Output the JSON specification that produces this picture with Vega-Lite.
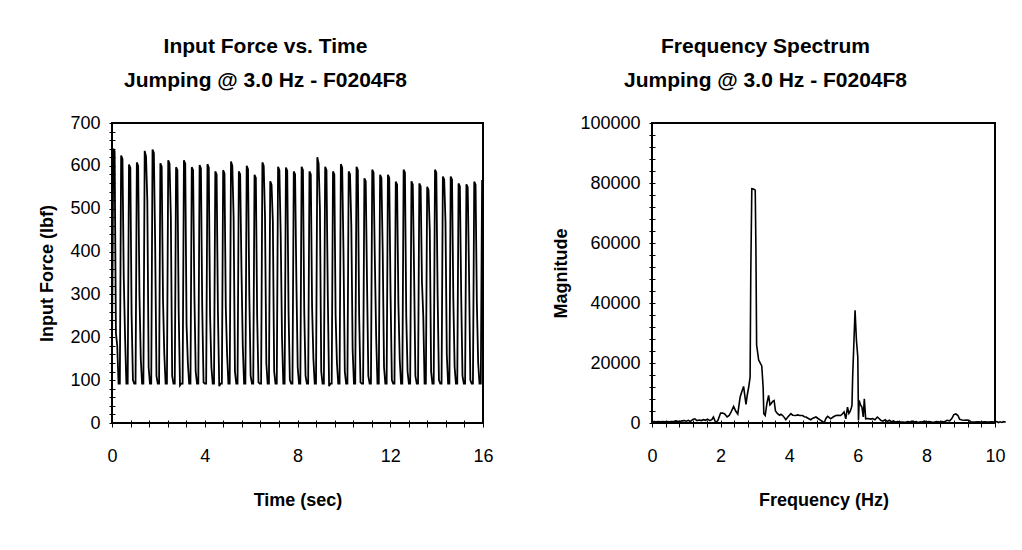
{
  "$schema": "https://vega.github.io/schema/vega-lite/v6.json",
  "background": "white",
  "padding": {"left": 37, "top": 35, "right": 5, "bottom": 5},
  "spacing": 56,
  "config": {
    "font": "Liberation Sans",
    "view": {"stroke": "black", "strokeWidth": 2},
    "axis": {
      "grid": false, "domain": false, "tickColor": "black", "tickWidth": 1,
      "labelColor": "black", "titleColor": "black", "labelFont": "Liberation Sans",
      "labelFontSize": 18, "titleFont": "Liberation Sans", "titleFontSize": 18, "titleFontWeight": "bold",
      "labelOverlap": false, "labelFlush": false, "labelBound": false, "format": "d"
    },
    "title": {"font": "Liberation Sans", "fontSize": 21, "fontWeight": "bold", "color": "black", "lineHeight": 34, "anchor": "middle", "offset": 23}
  },
  "hconcat": [
    {
      "width": 371, "height": 300,
      "title": {"text": ["Input Force vs. Time", "Jumping @ 3.0 Hz - F0204F8"], "dx": -32},
      "data": {"values": [
        {"t":0,"f":160},{"t":0.056,"f":640},{"t":0.113,"f":634},{"t":0.169,"f":210},{"t":0.226,"f":180},{"t":0.282,"f":92},
        {"t":0.338,"f":92},{"t":0.394,"f":624},{"t":0.451,"f":616},{"t":0.507,"f":340},{"t":0.564,"f":200},{"t":0.620,"f":92},
        {"t":0.677,"f":92},{"t":0.733,"f":603},{"t":0.790,"f":596},{"t":0.846,"f":250},{"t":0.903,"f":100},{"t":0.959,"f":92},
        {"t":1.015,"f":92},{"t":1.071,"f":608},{"t":1.128,"f":600},{"t":1.184,"f":300},{"t":1.241,"f":150},{"t":1.297,"f":92},
        {"t":1.354,"f":92},{"t":1.410,"f":635},{"t":1.467,"f":622},{"t":1.523,"f":520},{"t":1.580,"f":130},{"t":1.636,"f":92},
        {"t":1.692,"f":92},{"t":1.748,"f":638},{"t":1.805,"f":630},{"t":1.861,"f":420},{"t":1.918,"f":110},{"t":1.974,"f":92},
        {"t":2.030,"f":92},{"t":2.086,"f":606},{"t":2.143,"f":598},{"t":2.199,"f":290},{"t":2.256,"f":160},{"t":2.312,"f":92},
        {"t":2.369,"f":92},{"t":2.425,"f":613},{"t":2.482,"f":605},{"t":2.538,"f":480},{"t":2.595,"f":110},{"t":2.651,"f":92},
        {"t":2.707,"f":92},{"t":2.763,"f":597},{"t":2.820,"f":590},{"t":2.876,"f":260},{"t":2.933,"f":88},{"t":2.989,"f":92},
        {"t":3.046,"f":92},{"t":3.102,"f":613},{"t":3.159,"f":605},{"t":3.215,"f":230},{"t":3.272,"f":140},{"t":3.328,"f":92},
        {"t":3.384,"f":92},{"t":3.440,"f":597},{"t":3.497,"f":590},{"t":3.553,"f":300},{"t":3.610,"f":120},{"t":3.666,"f":92},
        {"t":3.722,"f":92},{"t":3.778,"f":602},{"t":3.835,"f":594},{"t":3.891,"f":270},{"t":3.948,"f":95},{"t":4.004,"f":92},
        {"t":4.061,"f":92},{"t":4.117,"f":604},{"t":4.174,"f":596},{"t":4.230,"f":250},{"t":4.287,"f":130},{"t":4.343,"f":92},
        {"t":4.399,"f":92},{"t":4.455,"f":587},{"t":4.512,"f":580},{"t":4.568,"f":260},{"t":4.625,"f":86},{"t":4.681,"f":92},
        {"t":4.738,"f":92},{"t":4.794,"f":590},{"t":4.851,"f":582},{"t":4.907,"f":270},{"t":4.964,"f":160},{"t":5.020,"f":92},
        {"t":5.076,"f":92},{"t":5.132,"f":610},{"t":5.189,"f":600},{"t":5.245,"f":480},{"t":5.302,"f":120},{"t":5.358,"f":92},
        {"t":5.414,"f":92},{"t":5.470,"f":587},{"t":5.527,"f":580},{"t":5.583,"f":360},{"t":5.640,"f":180},{"t":5.696,"f":92},
        {"t":5.753,"f":92},{"t":5.809,"f":600},{"t":5.866,"f":592},{"t":5.922,"f":300},{"t":5.979,"f":110},{"t":6.035,"f":92},
        {"t":6.091,"f":92},{"t":6.147,"f":579},{"t":6.204,"f":572},{"t":6.260,"f":250},{"t":6.317,"f":95},{"t":6.373,"f":92},
        {"t":6.430,"f":92},{"t":6.486,"f":608},{"t":6.543,"f":600},{"t":6.599,"f":480},{"t":6.656,"f":140},{"t":6.712,"f":92},
        {"t":6.768,"f":92},{"t":6.824,"f":564},{"t":6.881,"f":556},{"t":6.937,"f":470},{"t":6.994,"f":120},{"t":7.050,"f":92},
        {"t":7.106,"f":92},{"t":7.162,"f":598},{"t":7.219,"f":590},{"t":7.275,"f":440},{"t":7.332,"f":200},{"t":7.388,"f":92},
        {"t":7.445,"f":92},{"t":7.501,"f":596},{"t":7.558,"f":588},{"t":7.614,"f":260},{"t":7.671,"f":100},{"t":7.727,"f":92},
        {"t":7.783,"f":92},{"t":7.839,"f":587},{"t":7.896,"f":580},{"t":7.952,"f":330},{"t":8.009,"f":130},{"t":8.065,"f":92},
        {"t":8.122,"f":92},{"t":8.178,"f":598},{"t":8.235,"f":590},{"t":8.291,"f":260},{"t":8.348,"f":110},{"t":8.404,"f":92},
        {"t":8.460,"f":92},{"t":8.516,"f":587},{"t":8.573,"f":580},{"t":8.629,"f":270},{"t":8.686,"f":150},{"t":8.742,"f":92},
        {"t":8.798,"f":92},{"t":8.854,"f":620},{"t":8.911,"f":605},{"t":8.967,"f":500},{"t":9.024,"f":120},{"t":9.080,"f":92},
        {"t":9.137,"f":92},{"t":9.193,"f":598},{"t":9.250,"f":590},{"t":9.306,"f":300},{"t":9.363,"f":86},{"t":9.419,"f":92},
        {"t":9.475,"f":92},{"t":9.531,"f":587},{"t":9.588,"f":580},{"t":9.644,"f":250},{"t":9.701,"f":140},{"t":9.757,"f":92},
        {"t":9.814,"f":92},{"t":9.870,"f":604},{"t":9.927,"f":596},{"t":9.983,"f":400},{"t":10.040,"f":120},{"t":10.096,"f":92},
        {"t":10.152,"f":92},{"t":10.208,"f":587},{"t":10.265,"f":580},{"t":10.321,"f":460},{"t":10.378,"f":170},{"t":10.434,"f":92},
        {"t":10.490,"f":92},{"t":10.546,"f":598},{"t":10.603,"f":590},{"t":10.659,"f":250},{"t":10.716,"f":95},{"t":10.772,"f":92},
        {"t":10.829,"f":92},{"t":10.885,"f":571},{"t":10.942,"f":564},{"t":10.998,"f":330},{"t":11.055,"f":110},{"t":11.111,"f":92},
        {"t":11.167,"f":92},{"t":11.223,"f":591},{"t":11.280,"f":584},{"t":11.336,"f":380},{"t":11.393,"f":200},{"t":11.449,"f":92},
        {"t":11.506,"f":92},{"t":11.562,"f":579},{"t":11.619,"f":572},{"t":11.675,"f":400},{"t":11.732,"f":130},{"t":11.788,"f":92},
        {"t":11.844,"f":92},{"t":11.900,"f":579},{"t":11.957,"f":572},{"t":12.013,"f":300},{"t":12.070,"f":100},{"t":12.126,"f":92},
        {"t":12.182,"f":92},{"t":12.238,"f":563},{"t":12.295,"f":556},{"t":12.351,"f":280},{"t":12.408,"f":150},{"t":12.464,"f":92},
        {"t":12.521,"f":92},{"t":12.577,"f":591},{"t":12.634,"f":584},{"t":12.690,"f":250},{"t":12.747,"f":120},{"t":12.803,"f":92},
        {"t":12.859,"f":92},{"t":12.915,"f":564},{"t":12.972,"f":556},{"t":13.028,"f":350},{"t":13.085,"f":110},{"t":13.141,"f":92},
        {"t":13.198,"f":92},{"t":13.254,"f":559},{"t":13.311,"f":552},{"t":13.367,"f":330},{"t":13.424,"f":250},{"t":13.480,"f":92},
        {"t":13.536,"f":92},{"t":13.592,"f":551},{"t":13.649,"f":544},{"t":13.705,"f":450},{"t":13.762,"f":120},{"t":13.818,"f":92},
        {"t":13.874,"f":92},{"t":13.930,"f":591},{"t":13.987,"f":584},{"t":14.043,"f":300},{"t":14.100,"f":100},{"t":14.156,"f":92},
        {"t":14.213,"f":92},{"t":14.269,"f":575},{"t":14.326,"f":568},{"t":14.382,"f":470},{"t":14.439,"f":160},{"t":14.495,"f":92},
        {"t":14.551,"f":92},{"t":14.607,"f":575},{"t":14.664,"f":568},{"t":14.720,"f":290},{"t":14.777,"f":130},{"t":14.833,"f":92},
        {"t":14.890,"f":92},{"t":14.946,"f":559},{"t":15.003,"f":552},{"t":15.059,"f":300},{"t":15.116,"f":110},{"t":15.172,"f":92},
        {"t":15.228,"f":92},{"t":15.284,"f":557},{"t":15.341,"f":550},{"t":15.397,"f":350},{"t":15.454,"f":100},{"t":15.510,"f":92},
        {"t":15.566,"f":92},{"t":15.622,"f":563},{"t":15.679,"f":556},{"t":15.735,"f":280},{"t":15.792,"f":140},{"t":15.848,"f":92},
        {"t":15.905,"f":92},{"t":15.961,"f":567},{"t":16.0,"f":560}
      ]},
      "mark": {"type": "line", "color": "black", "strokeWidth": 1.8, "clip": true},
      "encoding": {
        "x": {"field": "t", "type": "quantitative", "scale": {"domain": [0, 16], "nice": false},
          "axis": {"title": "Time (sec)", "values": [0,0.8,1.6,2.4,3.2,4,4.8,5.6,6.4,7.2,8,8.8,9.6,10.4,11.2,12,12.8,13.6,14.4,15.2,16],
            "labelExpr": "datum.value % 4 == 0 ? datum.label : ''", "offset": -3, "tickSize": 7, "labelPadding": 20, "titlePadding": 26}},
        "y": {"field": "f", "type": "quantitative", "scale": {"domain": [0, 700], "nice": false},
          "axis": {"title": "Input Force (lbf)", "values": [0,20,40,60,80,100,120,140,160,180,200,220,240,260,280,300,320,340,360,380,400,420,440,460,480,500,520,540,560,580,600,620,640,660,680,700],
            "labelExpr": "datum.value % 100 == 0 ? datum.label : ''", "offset": -3, "tickSize": 6, "labelPadding": 9, "titlePadding": 13}}
      }
    },
    {
      "width": 343, "height": 300,
      "title": {"text": ["Frequency Spectrum", "Jumping @ 3.0 Hz - F0204F8"], "dx": -58},
      "data": {"values": [
        {"hz":0,"m":400},{"hz":0.06,"m":450},{"hz":0.12,"m":400},{"hz":0.19,"m":450},{"hz":0.25,"m":400},{"hz":0.31,"m":450},{"hz":0.38,"m":400},{"hz":0.44,"m":450},{"hz":0.5,"m":400},{"hz":0.56,"m":450},
        {"hz":0.62,"m":450},{"hz":0.69,"m":700},{"hz":0.75,"m":600},{"hz":0.81,"m":500},{"hz":0.88,"m":700},{"hz":0.94,"m":800},{"hz":1.0,"m":600},{"hz":1.06,"m":900},{"hz":1.12,"m":500},{"hz":1.19,"m":1200},
        {"hz":1.25,"m":1400},{"hz":1.31,"m":800},{"hz":1.38,"m":1000},{"hz":1.44,"m":800},{"hz":1.5,"m":1100},{"hz":1.56,"m":900},{"hz":1.62,"m":1300},{"hz":1.69,"m":800},{"hz":1.75,"m":1200},{"hz":1.79,"m":2000},
        {"hz":1.83,"m":900},{"hz":1.86,"m":200},{"hz":1.92,"m":800},{"hz":2.0,"m":3300},{"hz":2.06,"m":3300},{"hz":2.12,"m":3000},{"hz":2.19,"m":2000},{"hz":2.25,"m":2500},{"hz":2.31,"m":3800},{"hz":2.38,"m":5500},
        {"hz":2.44,"m":4000},{"hz":2.5,"m":3000},{"hz":2.57,"m":8700},{"hz":2.62,"m":10500},{"hz":2.67,"m":12200},{"hz":2.74,"m":6200},{"hz":2.78,"m":9500},{"hz":2.82,"m":12000},{"hz":2.86,"m":15300},{"hz":2.88,"m":50000},
        {"hz":2.91,"m":78100},{"hz":2.96,"m":78000},{"hz":3.01,"m":77600},{"hz":3.03,"m":57600},{"hz":3.05,"m":26000},{"hz":3.11,"m":21000},{"hz":3.2,"m":19000},{"hz":3.24,"m":12000},{"hz":3.26,"m":3100},{"hz":3.3,"m":2500},
        {"hz":3.35,"m":6500},{"hz":3.4,"m":9200},{"hz":3.44,"m":6000},{"hz":3.47,"m":6400},{"hz":3.52,"m":7200},{"hz":3.56,"m":7500},{"hz":3.6,"m":4000},{"hz":3.66,"m":3100},{"hz":3.72,"m":2600},{"hz":3.76,"m":2900},
        {"hz":3.81,"m":2500},{"hz":3.86,"m":1800},{"hz":3.9,"m":1100},{"hz":3.96,"m":2000},{"hz":4.05,"m":3100},{"hz":4.1,"m":2600},{"hz":4.19,"m":2500},{"hz":4.25,"m":2700},{"hz":4.31,"m":2500},{"hz":4.39,"m":2500},
        {"hz":4.44,"m":2100},{"hz":4.49,"m":2000},{"hz":4.56,"m":1500},{"hz":4.63,"m":1100},{"hz":4.69,"m":1600},{"hz":4.78,"m":2000},{"hz":4.84,"m":1500},{"hz":4.92,"m":900},{"hz":4.97,"m":500},{"hz":5.02,"m":100},
        {"hz":5.07,"m":1500},{"hz":5.12,"m":2200},{"hz":5.17,"m":1800},{"hz":5.21,"m":1400},{"hz":5.28,"m":2000},{"hz":5.36,"m":2500},{"hz":5.43,"m":2600},{"hz":5.5,"m":2500},{"hz":5.55,"m":3000},{"hz":5.6,"m":3700},
        {"hz":5.65,"m":1400},{"hz":5.7,"m":5300},{"hz":5.74,"m":3200},{"hz":5.77,"m":3700},{"hz":5.81,"m":5000},{"hz":5.83,"m":5900},{"hz":5.85,"m":15300},{"hz":5.92,"m":37600},{"hz":5.96,"m":27600},{"hz":6.0,"m":22000},
        {"hz":6.02,"m":900},{"hz":6.04,"m":7500},{"hz":6.08,"m":6000},{"hz":6.12,"m":5300},{"hz":6.16,"m":2000},{"hz":6.19,"m":8100},{"hz":6.23,"m":1400},{"hz":6.3,"m":1500},{"hz":6.38,"m":1300},{"hz":6.43,"m":1500},
        {"hz":6.5,"m":1100},{"hz":6.57,"m":2000},{"hz":6.62,"m":1500},{"hz":6.67,"m":900},{"hz":6.73,"m":600},{"hz":6.8,"m":1100},{"hz":6.86,"m":500},{"hz":6.92,"m":900},{"hz":6.98,"m":400},{"hz":7.04,"m":700},
        {"hz":7.1,"m":300},{"hz":7.16,"m":500},{"hz":7.22,"m":300},{"hz":7.3,"m":350},{"hz":7.38,"m":200},{"hz":7.45,"m":500},{"hz":7.52,"m":300},{"hz":7.58,"m":600},{"hz":7.64,"m":300},{"hz":7.7,"m":500},
        {"hz":7.76,"m":200},{"hz":7.82,"m":400},{"hz":7.88,"m":300},{"hz":7.94,"m":600},{"hz":8.0,"m":300},{"hz":8.08,"m":500},{"hz":8.15,"m":350},{"hz":8.22,"m":250},{"hz":8.3,"m":450},{"hz":8.38,"m":300},
        {"hz":8.45,"m":500},{"hz":8.52,"m":350},{"hz":8.6,"m":900},{"hz":8.68,"m":700},{"hz":8.74,"m":1500},{"hz":8.8,"m":2800},{"hz":8.86,"m":3000},{"hz":8.92,"m":2500},{"hz":8.97,"m":1200},{"hz":9.04,"m":1000},
        {"hz":9.1,"m":900},{"hz":9.17,"m":1000},{"hz":9.24,"m":900},{"hz":9.3,"m":400},{"hz":9.4,"m":350},{"hz":9.5,"m":400},{"hz":9.6,"m":350},{"hz":9.7,"m":400},{"hz":9.8,"m":350},{"hz":9.9,"m":400},
        {"hz":10.0,"m":350},{"hz":10.05,"m":500},{"hz":10.1,"m":150},{"hz":10.15,"m":400},{"hz":10.2,"m":200},{"hz":10.25,"m":450},{"hz":10.31,"m":300}
      ]},
      "mark": {"type": "line", "color": "black", "strokeWidth": 1.6, "clip": false},
      "encoding": {
        "x": {"field": "hz", "type": "quantitative", "scale": {"domain": [0, 10], "nice": false},
          "axis": {"title": "Frequency (Hz)", "values": [0,0.4,0.8,1.2,1.6,2,2.4,2.8,3.2,3.6,4,4.4,4.8,5.2,5.6,6,6.4,6.8,7.2,7.6,8,8.4,8.8,9.2,9.6,10],
            "labelExpr": "datum.value % 2 == 0 ? datum.label : ''", "offset": -3, "tickSize": 7, "labelPadding": 20, "titlePadding": 26}},
        "y": {"field": "m", "type": "quantitative", "scale": {"domain": [0, 100000], "nice": false},
          "axis": {"title": "Magnitude", "values": [0,4000,8000,12000,16000,20000,24000,28000,32000,36000,40000,44000,48000,52000,56000,60000,64000,68000,72000,76000,80000,84000,88000,92000,96000,100000],
            "labelExpr": "datum.value % 20000 == 0 ? datum.label : ''", "offset": -3, "tickSize": 6, "labelPadding": 9, "titlePadding": 9}}
      }
    }
  ]
}
